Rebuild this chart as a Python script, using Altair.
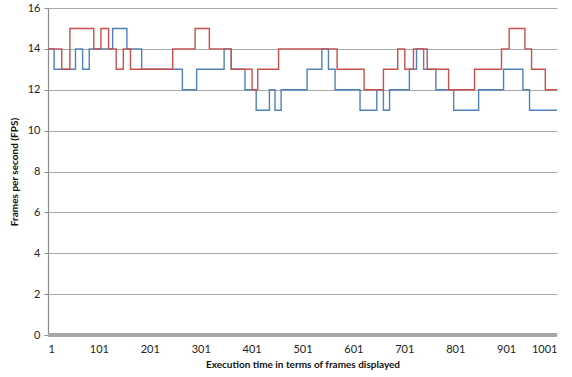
import altair as alt
import pandas as pd

# change points (frame where a new value starts) for each series
red_frames = [1, 28, 44, 91, 105, 120, 135, 149, 163, 246, 290, 318, 361, 402, 413,
              454, 569, 622, 660, 688, 702, 719, 746, 788, 839, 892, 907, 938, 951, 978, 1001]
red_values = [14, 13, 15, 14, 15, 14, 13, 14, 13, 14, 15, 14, 13, 12, 13,
              14, 13, 12, 13, 14, 13, 14, 13, 12, 13, 14, 15, 14, 13, 12, 12]

blue_frames = [1, 13, 55, 69, 82, 128, 156, 185, 265, 293, 347, 361, 388, 410, 436,
               447, 459, 510, 539, 552, 565, 614, 647, 660, 672, 711, 725, 739, 763,
               798, 847, 896, 934, 947, 1001]
blue_values = [14, 13, 14, 13, 14, 15, 14, 13, 12, 13, 14, 13, 12, 11, 12,
               11, 12, 13, 14, 13, 12, 11, 12, 11, 12, 13, 14, 13, 12,
               11, 12, 13, 12, 11, 11]

gray_frames = [1, 1001]
gray_values = [0, 0]

x_ticks = [1, 101, 201, 301, 401, 501, 601, 701, 801, 901, 1001]

df = pd.concat([
    pd.DataFrame({"frame": gray_frames, "fps": gray_values, "series": "base"}),
    pd.DataFrame({"frame": blue_frames, "fps": blue_values, "series": "blue"}),
    pd.DataFrame({"frame": red_frames, "fps": red_values, "series": "red"}),
])

FONT = "Lato"

x_enc = alt.X("frame:Q",
              scale=alt.Scale(domain=[1, 1001], nice=False, zero=False),
              axis=alt.Axis(values=x_ticks, format="d",
                            title="Execution time in terms of frames displayed",
                            grid=False, domain=False, ticks=False, labelPadding=8,
                            labelFontSize=11, labelColor="#222222", labelFont=FONT,
                            titleFont=FONT, titleFontSize=10, titleFontWeight="bold",
                            titleColor="#111111", titlePadding=5))
y_enc = alt.Y("fps:Q",
              scale=alt.Scale(domain=[0, 16], nice=False),
              axis=alt.Axis(values=list(range(0, 17, 2)), title="Frames per second (FPS)",
                            grid=True, gridColor="#a9a9a9", gridWidth=1.2,
                            domain=True, domainColor="#8c8c8c", domainWidth=1.2,
                            ticks=True, tickSize=4, tickColor="#8c8c8c",
                            labelFontSize=11, labelColor="#222222", labelFont=FONT,
                            labelPadding=4,
                            titleFont=FONT, titleFontSize=10, titleFontWeight="bold",
                            titleColor="#111111", titlePadding=8))

base_line = alt.Chart(df[df.series == "base"]).mark_line(
    color="#a6a6a6", strokeWidth=4, clip=False
).encode(x=x_enc, y=y_enc)

lines = alt.Chart(df[df.series != "base"]).mark_line(
    interpolate="step-after", strokeWidth=1.4
).encode(
    x=x_enc, y=y_enc,
    color=alt.Color("series:N",
                    scale=alt.Scale(domain=["blue", "red"], range=["#4F81BD", "#C9504D"]),
                    legend=None),
    detail="series:N",
)

chart = alt.layer(base_line, lines).properties(
    width=509, height=327,
    autosize=alt.AutoSizeParams(type="none"),
    padding={"left": 48, "top": 8, "right": 15, "bottom": 42},
    background="white",
).configure_view(stroke=None)

chart.save("out.html", embed_options={"renderer": "svg", "actions": False})
